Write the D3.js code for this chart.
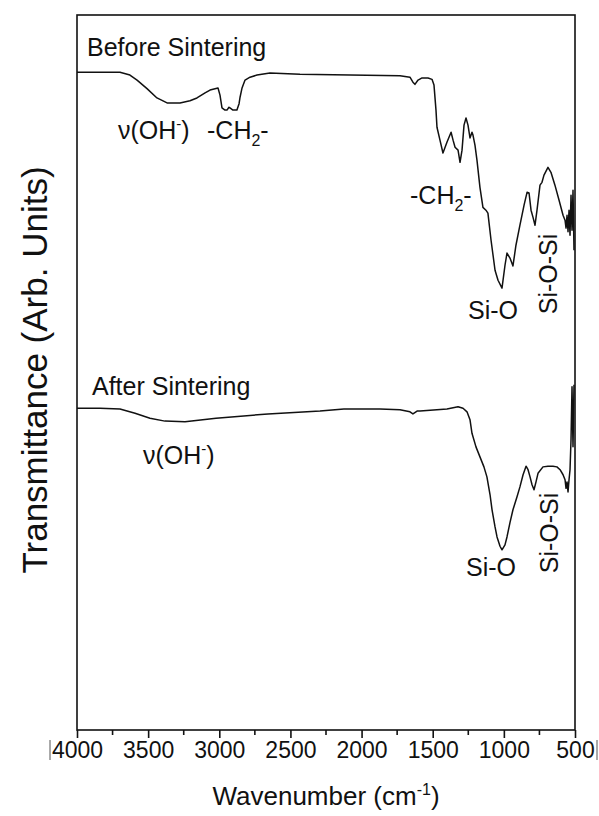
<!DOCTYPE html>
<html>
<head>
<meta charset="utf-8">
<script src="https://cdn.jsdelivr.net/npm/d3@7"></script>
<style>
  body { margin: 0; background: #fff; }
  svg { display: block; }
  text { font-family: "Liberation Sans", Arial, Helvetica, sans-serif; fill: #111; }
</style>
</head>
<body>
<svg id="chart" width="599" height="816"></svg>
<script>
// FTIR spectrum before sintering (wavenumber in cm^-1, transmittance in arb. units)
const beforeWavenumber = [
  4000, 3838, 3698, 3628, 3578, 3508, 3438, 3367, 3276, 3206, 3157, 3100, 3065, 3009,
  2995, 2981, 2960, 2946, 2932, 2925, 2904, 2876, 2861, 2854, 2840, 2819, 2784, 2735,
  2644, 2433, 2081, 1730, 1660, 1639, 1625, 1603, 1575, 1533, 1505, 1491, 1477, 1470,
  1449, 1428, 1400, 1371, 1357, 1343, 1322, 1308, 1294, 1280, 1266, 1252, 1238, 1224,
  1217, 1203, 1189, 1168, 1147, 1126, 1112, 1090, 1062, 1041, 1013, 992, 978, 957,
  936, 915, 887, 858, 837, 823, 809, 795, 781, 767, 746, 732, 718, 690, 669, 641,
  612, 584, 570, 563, 556, 549, 542, 535, 528, 521, 514, 507
];
const beforeTransmittance = [
  92.0, 92.0, 92.0, 91.6, 90.9, 89.7, 88.4, 87.7, 87.7, 88.0, 88.4, 89.1, 89.5, 89.8,
  88.8, 87.0, 86.7, 86.7, 87.1, 87.0, 86.7, 86.7, 87.6, 88.5, 89.8, 90.9, 91.3, 91.6,
  91.9, 91.7, 91.6, 91.5, 91.3, 90.6, 90.3, 90.9, 91.2, 91.2, 91.0, 90.2, 86.7, 84.3,
  82.5, 80.7, 82.2, 83.6, 82.5, 81.5, 81.1, 79.4, 81.1, 84.6, 85.6, 84.6, 82.8, 83.6,
  83.2, 81.8, 79.7, 75.9, 73.1, 72.7, 72.3, 68.5, 64.3, 62.9, 61.8, 65.0, 66.7, 66.0,
  64.9, 67.8, 70.6, 73.4, 75.2, 75.1, 72.7, 71.7, 70.6, 72.7, 76.2, 76.6, 77.6, 78.7, 78.0, 76.2,
  74.1, 72.0, 71.3, 70.2, 72.0, 69.7, 72.7, 69.2, 74.8, 69.9, 75.5, 67.1
];

// FTIR spectrum after sintering
const afterWavenumber = [
  4000, 3838, 3698, 3592, 3487, 3382, 3241, 3023, 2658, 2292, 2124, 1871, 1730, 1660,
  1639, 1610, 1589, 1400, 1322, 1287, 1259, 1238, 1224, 1196, 1168, 1140, 1119, 1097,
  1083, 1062, 1048, 1027, 1013, 992, 978, 957, 936, 908, 887, 865, 844, 830, 816, 802,
  788, 774, 760, 725, 690, 655, 627, 605, 584, 570, 563, 556, 549, 542, 535, 528, 521,
  514, 507
];
const afterTransmittance = [
  45.0, 45.0, 44.9, 44.3, 43.6, 43.2, 43.1, 43.6, 44.2, 44.6, 44.9, 44.9, 44.8, 44.5,
  44.2, 44.6, 44.6, 44.9, 45.2, 45.0, 44.5, 43.4, 41.5, 39.6, 38.2, 36.8, 35.4, 32.9,
  30.8, 28.4, 27.0, 25.7, 25.2, 25.9, 27.0, 29.0, 30.8, 32.6, 34.0, 35.7, 36.9, 36.4, 35.4, 34.3,
  33.6, 34.7, 35.9, 36.8, 36.9, 36.9, 36.8, 36.4, 35.7, 35.0, 33.8, 34.7, 33.3, 35.0, 36.4, 40.6, 48.0,
  39.6, 48.3
];

// Axis ticks
const majorTicks = [4000, 3500, 3000, 2500, 2000, 1500, 1000, 500];
const minorTicks = [3750, 3250, 2750, 2250, 1750, 1250, 750];

const svg = d3.select("#chart");
const plot = { left: 77, right: 575, top: 15, bottom: 730 };

const x = d3.scaleLinear().domain([4000, 500]).range([plot.left, plot.right]);
const y = d3.scaleLinear().domain([0, 100]).range([plot.bottom, plot.top]);

const line = d3.line().x(d => x(d[0])).y(d => y(d[1]));

const series = [
  d3.zip(beforeWavenumber, beforeTransmittance),
  d3.zip(afterWavenumber, afterTransmittance)
];

svg.selectAll("path.spectrum")
  .data(series)
  .join("path")
  .attr("class", "spectrum")
  .attr("d", line)
  .attr("fill", "none")
  .attr("stroke", "#111")
  .attr("stroke-width", 1.5)
  .attr("stroke-linejoin", "round");

// Frame
svg.append("rect")
  .attr("x", plot.left).attr("y", plot.top)
  .attr("width", plot.right - plot.left).attr("height", plot.bottom - plot.top)
  .attr("fill", "none").attr("stroke", "#111").attr("stroke-width", 1.6);

// Bottom axis with major and minor ticks
const xAxis = d3.axisBottom(x)
  .tickValues(majorTicks)
  .tickFormat(d3.format("d"))
  .tickSize(8)
  .tickSizeOuter(0)
  .tickPadding(4);

const gx = svg.append("g")
  .attr("transform", `translate(0,${plot.bottom})`)
  .call(xAxis);
gx.select(".domain").remove();
gx.selectAll(".tick line").attr("stroke", "#111").attr("stroke-width", 1.6);
gx.selectAll(".tick text")
  .attr("font-size", 23)
  .attr("fill", "#222")
  .style("font-family", "\"Liberation Sans\", Arial, sans-serif");

svg.append("g")
  .attr("transform", `translate(0,${plot.bottom})`)
  .selectAll("line")
  .data(minorTicks)
  .join("line")
  .attr("x1", d => x(d)).attr("x2", d => x(d))
  .attr("y1", 0).attr("y2", 5)
  .attr("stroke", "#111").attr("stroke-width", 1.6);

// Thin marks beside the end tick labels
svg.append("line").attr("x1", 50).attr("x2", 50).attr("y1", 740).attr("y2", 760)
  .attr("stroke", "#555").attr("stroke-width", 1);
svg.append("line").attr("x1", 597).attr("x2", 597).attr("y1", 740).attr("y2", 760)
  .attr("stroke", "#555").attr("stroke-width", 1);

// Axis titles
const xTitle = svg.append("text")
  .attr("x", (plot.left + plot.right) / 2)
  .attr("y", 805)
  .attr("text-anchor", "middle")
  .attr("font-size", 26);
xTitle.append("tspan").text("Wavenumber (cm");
xTitle.append("tspan").attr("dy", -10).attr("font-size", 16).text("-1");
xTitle.append("tspan").attr("dy", 10).text(")");

svg.append("text")
  .attr("transform", "translate(47,370) rotate(-90)")
  .attr("text-anchor", "middle")
  .attr("font-size", 35)
  .text("Transmittance (Arb. Units)");

// Spectrum labels and band annotations
function labelWithScript(px, py, size, parts) {
  const t = svg.append("text").attr("x", px).attr("y", py).attr("font-size", size);
  let shift = 0;
  parts.forEach(p => {
    const dy = (p.shift || 0) - shift;
    shift = p.shift || 0;
    t.append("tspan")
      .attr("dy", dy)
      .attr("font-size", p.size || size)
      .text(p.text);
  });
  return t;
}

svg.append("text").attr("x", 87).attr("y", 56).attr("font-size", 25).text("Before Sintering");
svg.append("text").attr("x", 92).attr("y", 395).attr("font-size", 25).text("After Sintering");

labelWithScript(118, 139, 25, [
  { text: "\u03bd(OH" }, { text: "-", size: 15, shift: -10 }, { text: ")" }
]);
labelWithScript(207, 139, 25, [
  { text: "-CH" }, { text: "2", size: 16, shift: 7 }, { text: "-" }
]);
labelWithScript(410, 204, 25, [
  { text: "-CH" }, { text: "2", size: 16, shift: 7 }, { text: "-" }
]);
svg.append("text").attr("x", 468).attr("y", 319).attr("font-size", 25).text("Si-O");
svg.append("text")
  .attr("transform", "translate(557,274) rotate(-90)")
  .attr("text-anchor", "middle").attr("font-size", 25).text("Si-O-Si");

labelWithScript(143, 464, 25, [
  { text: "\u03bd(OH" }, { text: "-", size: 15, shift: -10 }, { text: ")" }
]);
svg.append("text").attr("x", 466).attr("y", 576).attr("font-size", 25).text("Si-O");
svg.append("text")
  .attr("transform", "translate(558,533) rotate(-90)")
  .attr("text-anchor", "middle").attr("font-size", 25).text("Si-O-Si");
</script>
</body>
</html>
